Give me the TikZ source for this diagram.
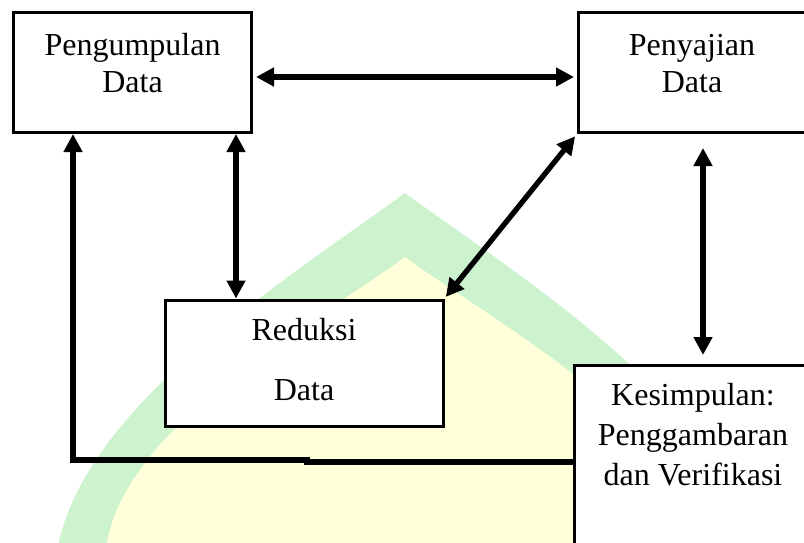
\documentclass[tikz,border=0pt]{standalone}
\usepackage{fontspec}
\setmainfont{Liberation Serif}
\usetikzlibrary{arrows.meta}

\definecolor{markgreen}{RGB}{205,243,206}
\definecolor{markyellow}{RGB}{255,255,218}

\tikzset{
  box/.style={draw=black, line width=3pt, fill=white, rectangle, inner sep=0pt},
  txt/.style={anchor=base, inner sep=0pt, font=\fontsize{32}{38}\selectfont},
  link/.style={line width=5.3pt},
  dbl/.style={link, {Triangle[width=18pt,length=18pt]}-{Triangle[width=18pt,length=18pt]}},
  sgl/.style={link, -{Triangle[width=18pt,length=18pt]}},
}

\begin{document}
\begin{tikzpicture}[x=1pt,y=-1pt]
\useasboundingbox (0,0) rectangle (804,542);
\fill[white] (0,0) rectangle (804,542);

% faint emblem in the background
\begin{scope}
  \clip (0,0) rectangle (804,542);
  \fill[markgreen] (59,560) -- (59,542) .. controls (90,400) and (300,270) .. (405,193)
        .. controls (510,270) and (720,400) .. (751,542) -- (751,560) -- cycle;
  \fill[markyellow] (107,560) -- (107,542) .. controls (130,420) and (320,320) .. (405,257)
        .. controls (490,320) and (680,420) .. (703,542) -- (703,560) -- cycle;
\end{scope}

% boxes
\node[box, minimum width=238pt, minimum height=120pt] (P) at (132.5,72.5) {};
\node[box, minimum width=240pt, minimum height=120pt] (S) at (698.5,72.5) {};
\node[box, minimum width=278pt, minimum height=126pt] (R) at (304,363) {};
\node[box, minimum width=260pt, minimum height=200pt] (K) at (704.5,465.5) {};

% box texts
\node[txt] (p1) at (132.5,55) {Pengumpulan};
\node[txt] (p2) at (132.5,92) {Data};
\node[txt] (s1) at (692,55) {Penyajian};
\node[txt] (s2) at (692,92) {Data};
\node[txt] (r1) at (304,340) {Reduksi};
\node[txt] (r2) at (304,400) {Data};
\node[txt] (k1) at (693,405) {Kesimpulan:};
\node[txt] (k2) at (693,445) {Penggambaran};
\node[txt] (k3) at (693,485) {dan Verifikasi};

% helper coordinates for connector rows and columns
\coordinate (hrow) at (0,77);
\coordinate (mcol) at (236,0);
\coordinate (rcol) at (703,0);
\coordinate (lcol) at (73,0);
\coordinate (brow) at (0,462);
\coordinate (bstep) at (307,460);

% connectors
\draw[dbl, shorten <=3pt, shorten >=3pt] (P.east |- hrow) -- (S.west |- hrow);
\draw[dbl] (P.south -| mcol) -- (R.north -| mcol);
\draw[dbl, shorten <=3pt, shorten >=2pt] (S.south west) -- (R.north east);
\draw[dbl, shorten <=14pt, shorten >=9pt] (S.south -| rcol) -- (K.north -| rcol);
\draw[sgl] (K.west |- brow) -- (bstep |- brow) -- (bstep) -- (bstep -| lcol) -- (P.south -| lcol);
\end{tikzpicture}
\end{document}
